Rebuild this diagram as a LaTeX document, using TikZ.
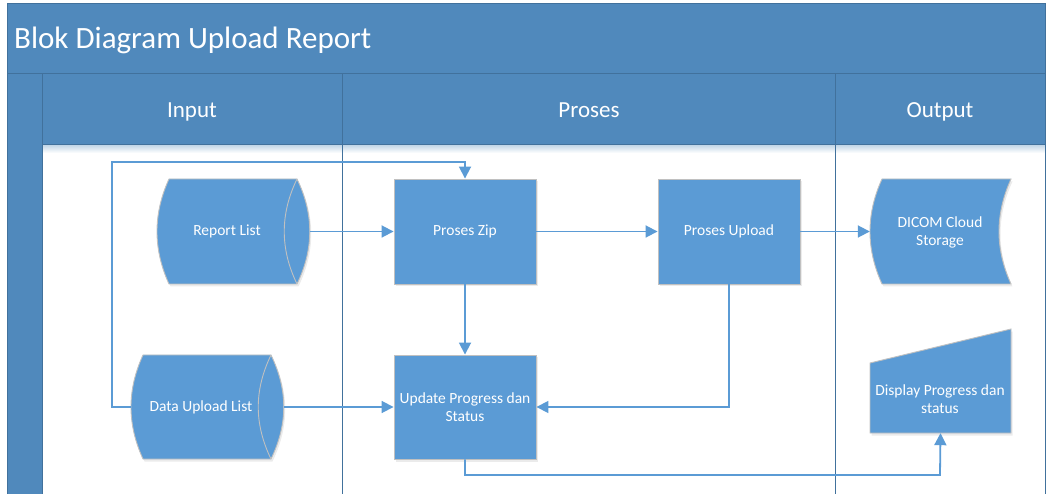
\documentclass[tikz,border=0pt]{standalone}
\usepackage{fontspec}
\setmainfont{Carlito}
\usetikzlibrary{arrows.meta,shadows,calc}

\definecolor{lanefill}{RGB}{80,137,188}
\definecolor{laneedge}{RGB}{65,113,156}
\definecolor{shapefill}{RGB}{91,155,213}
\definecolor{shapeedge}{RGB}{192,192,192}
\definecolor{flowcol}{RGB}{91,155,213}

\begin{document}
\begin{tikzpicture}[x=1pt,y=-1pt,
  lanebox/.style={fill=lanefill,draw=laneedge,line width=1pt},
  laneline/.style={draw=laneedge,line width=1pt},
  lanetext/.style={text=white,font=\fontsize{23}{26}\selectfont,inner sep=0pt,anchor=base},
  softshadow/.style={drop shadow={opacity=0.16,shadow xshift=1.5pt,shadow yshift=-2.5pt}},
  shapebody/.style={fill=shapefill,draw=shapeedge,line width=0.9pt,softshadow},
  shapeedgeline/.style={draw=shapeedge,line width=0.9pt},
  boxtext/.style={text=white,font=\fontsize{15.5}{18}\selectfont,align=center,inner sep=0pt},
  procbox/.style={shapebody,boxtext,minimum width=142pt,minimum height=#1,inner sep=2pt},
  hitbox/.style={draw=none,fill=none,inner sep=0pt,minimum width=#1},
  flow/.style={draw=flowcol,line width=1.8pt,-{Triangle[length=12pt,width=12pt]}}
]
\useasboundingbox (0,0) rectangle (1050,494);
\clip (0,0) rectangle (1050,494);

% ---------- swimlane frame ----------
\draw[lanebox] (7,4) rectangle (1045,74);
\node[text=white,font=\fontsize{31}{34}\selectfont,anchor=base west,inner sep=0pt]
  (title) at (14,49) {Blok Diagram Upload Report};

\fill[lanefill] (7,74) rectangle (42,500);
\draw[laneline] (7,74) -- (7,500);

% soft shade below the header row
\shade[top color=lanefill!35,bottom color=white] (42,145) rectangle (1045,153);

\draw[lanebox] (42,74) rectangle (342,145);
\draw[lanebox] (342,74) rectangle (835,145);
\draw[lanebox] (835,74) rectangle (1045,145);
\draw[laneline] (42,145) -- (42,500);
\draw[laneline] (342,145) -- (342,500);
\draw[laneline] (835,145) -- (835,500);
\draw[laneline] (1045,145) -- (1045,500);

\node[lanetext] (hin)  at (192,118) {Input};
\node[lanetext] (hpro) at (589,118) {Proses};
\node[lanetext] (hout) at (940,118) {Output};

% ---------- stored data: Report List ----------
\path[shapebody] (169,179) -- (297,179)
  .. controls (314,214) and (314,249) .. (297,284)
  -- (169,284)
  .. controls (153,249) and (153,214) .. (169,179) -- cycle;
\draw[shapeedgeline] (297,179) .. controls (280,214) and (280,249) .. (297,284);
\node[hitbox=153pt,minimum height=105pt] (rl) at (233.5,231.5) {};
\node[boxtext] (rltext) at (227,231.5) {Report List};

% ---------- stored data: Data Upload List ----------
\path[shapebody] (143,355) -- (271,355)
  .. controls (288,390) and (288,424) .. (271,459)
  -- (143,459)
  .. controls (127,424) and (127,390) .. (143,355) -- cycle;
\draw[shapeedgeline] (271,355) .. controls (254,390) and (254,424) .. (271,459);
\node[hitbox=153pt,minimum height=104pt] (dul) at (207.5,407) {};
\node[boxtext] (dultext) at (201,407) {Data Upload List};

% ---------- processes ----------
\node[procbox=105pt] (zip) at (465,231.5) {Proses Zip};
\node[procbox=105pt] (upl) at (729,231.5) {Proses Upload};
\node[procbox=104pt] (upd) at (465,407) {Update Progress dan\\Status};

% ---------- output: DICOM Cloud Storage ----------
\path[shapebody] (882,179) -- (1011,179)
  .. controls (995,214) and (995,249) .. (1011,284)
  -- (882,284)
  .. controls (866,249) and (866,214) .. (882,179) -- cycle;
\node[hitbox=141pt,minimum height=105pt] (dicom) at (940.5,231.5) {};
\node[boxtext] (dicomtext) at (940,232) {DICOM Cloud\\Storage};

% ---------- output: Display Progress dan status ----------
\path[shapebody] (870,363) -- (1011,329) -- (1011,433) -- (870,433) -- cycle;
\node[hitbox=141pt,minimum height=104pt] (disp) at (940.5,381) {};
\node[boxtext] (disptext) at (940,399) {Display Progress dan\\status};

% ---------- connectors ----------
\coordinate (loopL) at (112,162);
\coordinate (loopB) at (940,475);

\draw[flow] (rl.east) -- (zip.west);
\draw[flow] (zip.east) -- (upl.west);
\draw[flow] (upl.east) -- (dicom.west);
\draw[flow] (zip.south) -- (upd.north);
\draw[flow] (upl.south) |- (upd.east);
\draw[flow] (dul.east) -- (upd.west);
\draw[flow] (dul.west) -| (loopL) -| (zip.north);
\draw[flow] (upd.south) |- (loopB) -- (disp.south);
\end{tikzpicture}
\end{document}
